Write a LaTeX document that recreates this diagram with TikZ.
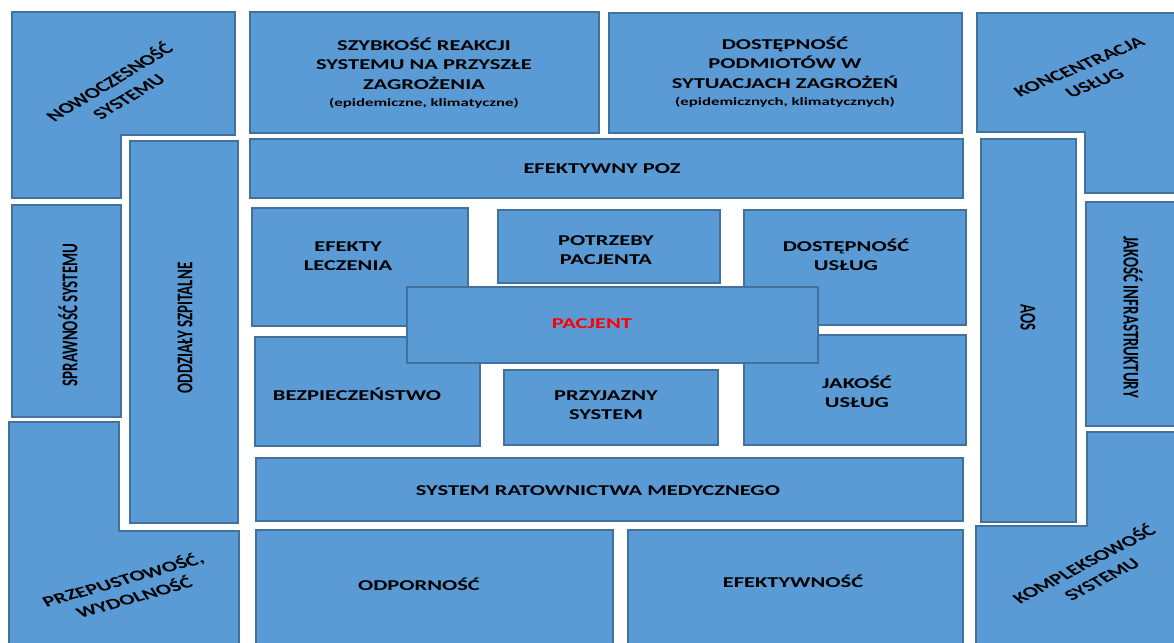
\documentclass[tikz,border=0pt]{standalone}
\usepackage{fontspec}
\setmainfont{Carlito}
\definecolor{boxfill}{RGB}{91,155,213}
\definecolor{boxline}{RGB}{65,113,156}
\definecolor{pacred}{RGB}{255,0,0}
\newcommand{\smalltxt}[1]{{\fontsize{5.6}{7}\selectfont #1}}

\begin{document}
\begin{tikzpicture}[x=0.5pt, y=-0.5pt,
	box/.style={draw=boxline, fill=boxfill, line width=1.2pt},
	lbl/.style={font=\bfseries\fontsize{7.5}{9.6}\selectfont, align=center, inner sep=0pt, xscale=1.5}]
	\useasboundingbox (0, 0) rectangle (1174, 643);
	\clip (0, 0) rectangle (1174, 643);
	\fill[white] (0, 0) rectangle (1174, 643);

	% left column
	\draw[box] (12, 12) -- (235, 12) -- (235, 135) -- (121, 135) -- (121, 198) -- (12, 198) -- cycle;
	\draw[box] (12, 205) rectangle (121, 417);
	\draw[box] (130, 141) rectangle (238, 523);
	\draw[box] (9, 422) -- (119, 422) -- (119, 531) -- (239, 531) -- (239, 660) -- (9, 660) -- cycle;

	% top rows
	\draw[box] (250, 12) rectangle (599, 133);
	\draw[box] (609, 13) rectangle (962, 133);
	\draw[box] (250, 139) rectangle (963, 198);

	% middle
	\draw[box] (252, 208) rectangle (468, 326);
	\draw[box] (498, 210) rectangle (720, 283);
	\draw[box] (744, 210) rectangle (966, 325);
	\draw[box] (255, 337) rectangle (480, 446);
	\draw[box] (504, 370) rectangle (718, 445);
	\draw[box] (744, 335) rectangle (966, 445);
	\draw[box] (407, 287) rectangle (818, 363);

	% bottom rows
	\draw[box] (256, 458) rectangle (963, 521);
	\draw[box] (256, 530) rectangle (613, 660);
	\draw[box] (628, 530) rectangle (963, 660);

	% right column
	\draw[box] (981, 139) rectangle (1076, 522);
	\draw[box] (977, 13) -- (1190, 13) -- (1190, 193) -- (1085, 193) -- (1085, 132) -- (977, 132) -- cycle;
	\draw[box] (1086, 202) rectangle (1190, 426);
	\draw[box] (1087, 432) -- (1190, 432) -- (1190, 660) -- (976, 660) -- (976, 526) -- (1087, 526) -- cycle;

	% labels
	\node[lbl, rotate=42] (nowo) at (118, 89) {NOWOCZESNOŚĆ\\SYSTEMU};
	\node[lbl, rotate=90] (spraw) at (68, 315) {SPRAWNOŚĆ SYSTEMU};
	\node[lbl, rotate=90] (oddz) at (185, 328) {ODDZIAŁY SZPITALNE};
	\node[lbl, rotate=23] (przep) at (128, 588) {PRZEPUSTOWOŚĆ,\\WYDOLNOŚĆ};
	\node[lbl] (szyb) at (424, 73) {SZYBKOŚĆ REAKCJI\\SYSTEMU NA PRZYSZŁE\\ZAGROŻENIA\\[-1pt]\smalltxt{(epidemiczne, klimatyczne)}};
	\node[lbl] (dostPod) at (785, 72) {DOSTĘPNOŚĆ\\PODMIOTÓW W\\SYTUACJACH ZAGROŻEŃ\\[-1pt]\smalltxt{(epidemicznych, klimatycznych)}};
	\node[lbl] (poz) at (602, 169) {EFEKTYWNY POZ};
	\node[lbl] (efLecz) at (348, 256) {EFEKTY\\LECZENIA};
	\node[lbl] (potrz) at (606, 250) {POTRZEBY\\PACJENTA};
	\node[lbl] (dostUsl) at (846, 255) {DOSTĘPNOŚĆ\\USŁUG};
	\node[lbl, text=pacred] (pacjent) at (592, 324) {PACJENT};
	\node[lbl] (bezp) at (357, 394) {BEZPIECZEŃSTWO};
	\node[lbl] (przyj) at (606, 405) {PRZYJAZNY\\SYSTEM};
	\node[lbl] (jakUsl) at (857, 392) {JAKOŚĆ\\USŁUG};
	\node[lbl] (srm) at (598, 491) {SYSTEM RATOWNICTWA MEDYCZNEGO};
	\node[lbl] (odp) at (419, 584) {ODPORNOŚĆ};
	\node[lbl] (efekt) at (793, 581) {EFEKTYWNOŚĆ};
	\node[lbl, rotate=-90] (aos) at (1028, 318) {AOS};
	\node[lbl, rotate=32] (konc) at (1087, 75) {KONCENTRACJA\\USŁUG};
	\node[lbl, rotate=-90] (jakInfr) at (1133, 317) {JAKOŚĆ INFRASTRUKTURY};
	\node[lbl, rotate=38] (kompl) at (1092, 571) {KOMPLEKSOWOŚĆ\\SYSTEMU};
\end{tikzpicture}
\end{document}
